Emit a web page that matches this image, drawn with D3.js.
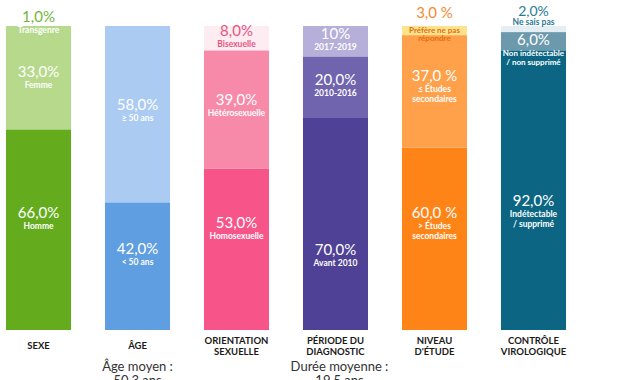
<!DOCTYPE html>
<html>
<head>
<meta charset="utf-8">
<style>
  body { margin: 0; background: #fff; }
  svg { display: block; font-family: Lato, "Open Sans", sans-serif; }
</style>
</head>
<body>
<svg width="619" height="380"></svg>
<script src="https://cdn.jsdelivr.net/npm/d3@7"></script>
<script>

// categories (bottom labels), one bar each
var categories = ["SEXE", "ÂGE", "ORIENTATION\nSEXUELLE", "PÉRIODE DU\nDIAGNOSTIC", "NIVEAU\nD'ÉTUDE", "CONTRÔLE\nVIROLOGIQUE"];

// segment values, bottom to top, in %
var segValues = [
  [66, 33, 1],
  [42, 58],
  [53, 39, 8],
  [70, 20, 10],
  [60, 37, 3],
  [92, 6, 2]
];

// value labels as printed
var valueLabels = [
  ["66,0%", "33,0%", "1,0%"],
  ["42,0%", "58,0%"],
  ["53,0%", "39,0%", "8,0%"],
  ["70,0%", "20,0%", "10%"],
  ["60,0 %", "37,0 %", "3,0 %"],
  ["92,0%", "6,0%", "2,0%"]
];

// segment names
var segNames = [
  ["Homme", "Femme", "Transgenre"],
  ["< 50 ans", "≥ 50 ans"],
  ["Homosexuelle", "Hétérosexuelle", "Bisexuelle"],
  ["Avant 2010", "2010-2016", "2017-2019"],
  ["> Études\nsecondaires", "≤ Études\nsecondaires", "Préfère ne pas\nrépondre"],
  ["Indétectable\n/ supprimé", "Non indétectable\n/ non supprimé", "Ne sais pas"]
];

// notes under some bars
var notes = [null, "Âge moyen :\n50,3 ans", null, "Durée moyenne :\n19,5 ans", null, null];

var colors = [
  ["#64ac1e", "#b6d98c", "#b6d98c"],
  ["#5f9ee0", "#abcbf2"],
  ["#f7548a", "#f88aa9", "#fdedf3"],
  ["#4f4195", "#7064ae", "#b6afd9"],
  ["#ff8418", "#ffa04a", "#fde48c"],
  ["#0c6683", "#6d99ad", "#e5eef2"]
];
// colour of the labels written above a bar or on a pale segment
var accent = ["#74b53c", null, "#e9547f", null, "#f38a36", "#2a7a93"];

var svg = d3.select("svg");

var x = d3.scaleBand()
    .domain(categories)
    .range([6, 566])
    .paddingInner(0.343)
    .paddingOuter(0);

var y = d3.scaleLinear().domain([0, 100]).range([330, 26]);

// vertical nudges of the labels, per bar and segment
var shift = [
  [-10, 0],
  [-10, -2],
  [-19, -3, 0],
  [33, 0, 0],
  [-19, -8],
  [18]
];

function lines(sel, str, cx, step) {
  sel.selectAll("tspan").data(str.split("\n")).enter().append("tspan")
      .attr("x", cx)
      .attr("dy", function(l, k) { return k ? step : 0; })
      .text(function(l) { return l; });
}

categories.forEach(function(cat, i) {
  var g = svg.append("g");
  var cx = x(cat) + x.bandwidth() / 2;
  var acc = 0;
  var segs = segValues[i].map(function(v, j) {
    var s = {v: v, y0: acc, y1: acc + v, j: j};
    acc += v;
    return s;
  });

  g.selectAll("rect").data(segs).enter().append("rect")
      .attr("x", x(cat))
      .attr("width", x.bandwidth())
      .attr("y", function(d) { return y(d.y1); })
      .attr("height", function(d) { return y(d.y0) - y(d.y1); })
      .attr("fill", function(d) { return colors[i][d.j]; });

  segs.forEach(function(d) {
    var j = d.j, top = y(d.y1);
    var vFill = "#fff", nFill = "#fff", vy, ny, step = 9, vSize = 15, nSize = 8.5;
    var mid = (y(d.y0) + top) / 2 + ((shift[i] && shift[i][j]) || 0);
    vy = mid - 2;
    ny = mid + 9;
    if (i === 0 && j === 2) {          // transgenre, above the bar
      vy = top - 4; ny = top + 7; vFill = accent[i];
    } else if (i === 2 && j === 2) {   // pale pink band
      vFill = nFill = accent[i];
    } else if (i === 4 && j === 2) {   // yellow band
      vy = top - 8; ny = top + 7; step = 8; nSize = 8;
      vFill = accent[i]; nFill = "#e46f14";
    } else if (i === 5 && j === 2) {   // above the bar
      vy = top - 10; ny = top - 1; vSize = 14; vFill = nFill = accent[i];
    } else if (i === 5 && j === 1) {
      vy = top + 13; ny = top + 24; step = 8.5; nSize = 8;
    } else if (i === 4 || (i === 5 && j === 0)) {
      step = 10;
    }
    g.append("text")
        .attr("x", cx).attr("y", vy)
        .attr("text-anchor", "middle")
        .attr("font-size", vSize)
        .attr("fill", vFill)
        .text(valueLabels[i][j]);
    g.append("text")
        .attr("x", cx).attr("y", ny)
        .attr("text-anchor", "middle")
        .attr("font-size", nSize)
        .attr("font-weight", "bold")
        .attr("fill", nFill)
        .call(lines, segNames[i][j], cx, step);
  });

  var clines = cat.split("\n");
  g.append("text")
      .attr("x", cx)
      .attr("y", clines.length > 1 ? 344 : 349)
      .attr("text-anchor", "middle")
      .attr("font-size", 9.5)
      .attr("font-weight", "bold")
      .attr("fill", "#1a1a1a")
      .call(lines, cat, cx, 11);

  if (notes[i]) {
    var nx = cx + (i === 3 ? 4 : 0);
    g.append("text")
        .attr("x", nx)
        .attr("y", 371)
        .attr("text-anchor", "middle")
        .attr("font-size", 13)
        .attr("fill", "#333")
        .call(lines, notes[i], nx, 14);
  }
});

</script>
</body>
</html>
